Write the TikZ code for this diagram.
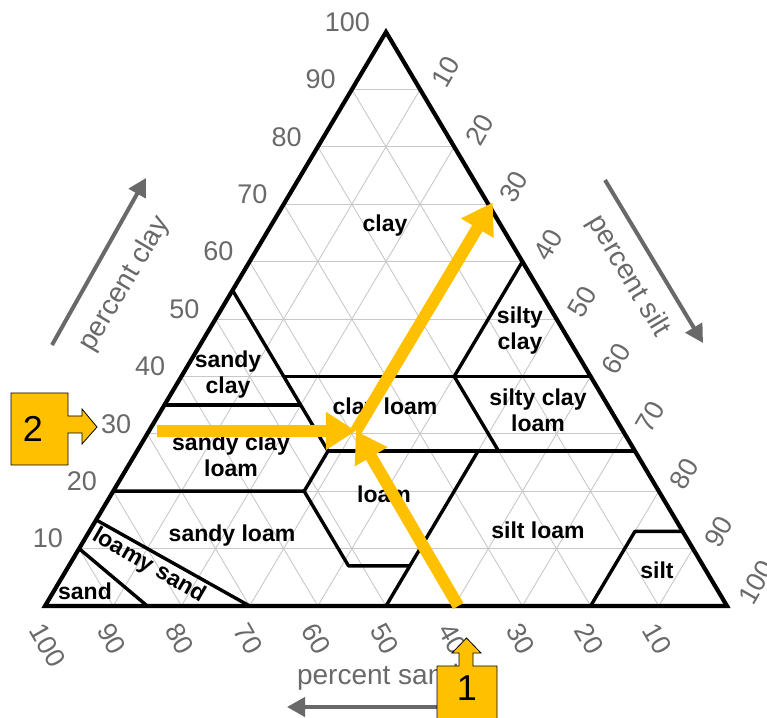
\documentclass[tikz,border=0pt]{standalone}
\usepackage{fontspec}
\setmainfont{Liberation Sans}
\usetikzlibrary{arrows.meta}
\definecolor{numgray}{RGB}{105,105,105}
\definecolor{gridgray}{RGB}{200,200,200}
\definecolor{amber}{RGB}{255,192,0}
\begin{document}
\begin{tikzpicture}[x=1pt,y=1pt,
  gridline/.style={draw=gridgray,line width=0.9pt},
  boundary/.style={draw=black,line width=3.4pt,line join=round},
  outline/.style={draw=black,line width=4.2pt,line join=miter},
  tick/.style={font=\fontsize{27}{27}\selectfont,text=numgray,inner sep=0pt},
  region/.style={font=\fontsize{23}{26}\selectfont\bfseries,align=center,inner sep=0pt},
  axislabel/.style={font=\fontsize{28}{28}\selectfont,text=numgray,inner sep=0pt},
  axisarrow/.style={draw=numgray,line width=4pt,-{Triangle[width=19pt,length=18pt]}},
  hilite/.style={draw=amber,line width=12pt,-{Triangle[width=36pt,length=30pt]}},
  callout/.style={fill=amber,draw=black,line width=0.8pt,line join=miter},
  calloutnum/.style={font=\fontsize{36}{36}\selectfont,inner sep=0pt}]
\useasboundingbox (0,0) rectangle (767,717);

% ternary frame: (silt, clay) in percent
\begin{scope}[shift={(45,111)},x={(6.82pt,0pt)},y={(3.41pt,5.74pt)}]
  % 10 % grid
  \foreach \k in {10,20,...,90} {
    \draw[gridline] (0,\k) -- ({100-\k},\k);
    \draw[gridline] (\k,0) -- (\k,{100-\k});
    \draw[gridline] (\k,0) -- (0,\k);
  }
  % texture class boundaries
  \draw[boundary] (0,10) -- (15,0);
  \draw[boundary] (0,15) -- (30,0);
  \draw[boundary] (0,20) -- (28,20) -- (41,7) -- (50,7);
  \draw[boundary] (50,0) -- (50,27);
  \draw[boundary] (28,20) -- (28,27) -- (0,55);
  \draw[boundary] (0,35) -- (20,35);
  \draw[boundary] (15,40) -- (60,40);
  \draw[boundary] (28,27) -- (73,27);
  \draw[boundary] (40,40) -- (40,60);
  \draw[boundary] (40,40) -- (53,27);
  \draw[boundary] (80,0) -- (80,13) -- (87,13);
  \draw[outline] (0,0) -- (100,0) -- (0,100) -- cycle;

  % axis numbers
  \foreach \c in {10,20,...,100}
    \node[tick,xshift=-16pt,yshift=10pt,anchor=east] (clay\c) at (0,\c) {\c};
  \foreach \s in {10,20,...,100}
    \node[tick,xshift=18pt,yshift=4pt,rotate=60,anchor=west] (silt\s) at (\s,{100-\s}) {\s};
  \foreach \a in {10,20,...,100}
    \node[tick,xshift=-9pt,yshift=-20pt,rotate=-60,anchor=west] (sand\a) at ({100-\a},0) {\a};

  % reading points
  \coordinate (meet) at (30.35,30.5);
  \coordinate (sandstart) at (60.6,0);
  \coordinate (claystart) at (1.2,30.5);
  \coordinate (siltend) at (30.5,70.3);
\end{scope}

% class names
\node[region] (nclay) at (385,491) {clay};
\node[region] (nsiltyclay) at (520,386) {silty\\clay};
\node[region] (nsandyclay) at (228,342) {sandy\\clay};
\node[region] (nclayloam) at (385,308) {clay loam};
\node[region] (nsiltyclayloam) at (538,307) {silty clay\\loam};
\node[region] (nsandyclayloam) at (231,262) {sandy clay\\loam};
\node[region] (nloam) at (384,223) {loam};
\node[region] (nsandyloam) at (232,181) {sandy loam};
\node[region] (nsiltloam) at (538,187) {silt loam};
\node[region] (nsilt) at (657,147) {silt};
\node[region,rotate=-30] (nloamysand) at (149,151) {loamy sand};
\node[region] (nsand) at (85,126) {sand};

% axis titles and direction arrows
\coordinate (cA) at (52,372);
\coordinate (cB) at (146,539);
\draw[axisarrow] (cA) -- (cB);
\node[axislabel,rotate=59.3] (tclay) at (125,433) {percent clay};
\coordinate (sA) at (605,537);
\coordinate (sB) at (703,374);
\draw[axisarrow] (sA) -- (sB);
\node[axislabel,rotate=-59.3] (tsilt) at (628,441) {percent silt};
\coordinate (dA) at (460,10);
\coordinate (dB) at (287,10);
\draw[axisarrow] (dA) -- (dB);
\node[axislabel] (tsand) at (378,40) {percent sand};

% reading the example soil
\draw[hilite] (meet) -- (siltend);
\draw[hilite] (claystart) -- (meet);
\draw[hilite] (sandstart) -- (meet);

% numbered callouts
\draw[callout] (437,-5) -- (437,51) -- (459,51) -- (459,64) -- (452,64) -- (466.5,79)
  -- (481,64) -- (473,64) -- (473,51) -- (497,51) -- (497,-5) -- cycle;
\node[calloutnum] (one) at (467,29) {1};
\draw[callout] (11,324) -- (68,324) -- (68,301) -- (82,301) -- (82,308) -- (97,290)
  -- (82,273) -- (82,284) -- (68,284) -- (68,252) -- (11,252) -- cycle;
\node[calloutnum] (two) at (33,288) {2};
\end{tikzpicture}
\end{document}
